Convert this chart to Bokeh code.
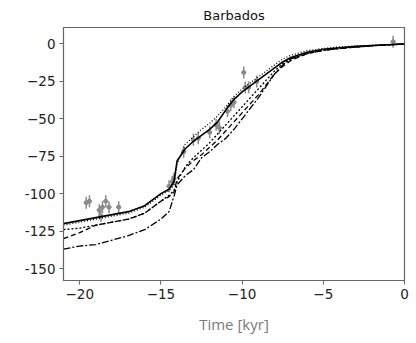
from bokeh.plotting import figure
from bokeh.embed import file_html
from bokeh.resources import INLINE
from bokeh.models import Range1d, FixedTicker

# Model times (kyr) and relative sea level (m) for each model curve
t = [-21, -20, -19, -18, -17, -16, -15, -14.5, -14.2, -14, -13.5, -13, -12.5, -12,
     -11.5, -11, -10.5, -10, -9.5, -9, -8.5, -8, -7.5, -7, -6, -5, -4, -3, -2, -1, 0]
solid = [-120, -118, -116, -114, -112, -108, -100, -97, -92, -78, -70, -65, -61, -57,
         -52, -44, -37, -32, -28, -24, -20, -16, -12, -9, -5.5, -3.5, -2.5, -1.6, -1, -0.5, 0]
dotted_a = [-121, -119, -117, -115, -113, -109, -101, -98, -94, -80, -67, -62, -57, -53,
            -48, -42, -35, -30, -26, -22, -18, -14, -10, -7.5, -4.5, -3, -2, -1.4, -0.9, -0.4, 0]
dotted_b = [-124, -123, -121, -119, -117, -113, -105, -101, -98, -92, -82, -76, -71, -66,
            -60, -54, -48, -42, -36, -30, -24, -18, -13, -10, -6, -4, -2.8, -1.8, -1.1, -0.5, 0]
dashed = [-130, -126, -121, -119, -117, -113, -105, -102, -99, -90, -83, -78, -74, -69,
          -64, -58, -52, -46, -40, -34, -27, -20, -15, -11, -6.5, -4.2, -3, -2, -1.2, -0.6, 0]
dashdot = [-137, -135, -134, -131, -128, -124, -117, -112, -102, -94, -88, -84, -76, -72,
           -67, -63, -57, -50, -43, -36, -28, -20, -14, -10, -6.5, -4.3, -3.1, -2.1, -1.3, -0.6, 0]

# Observations (age kyr, RSL m)
obs_t = [-19.6, -19.4, -18.8, -18.7, -18.6, -18.4, -18.2, -17.6, -14.5, -14.3, -14.2,
         -13.6, -13.0, -12.7, -12.0, -11.6, -11.4, -10.9, -10.7, -10.5, -9.9, -9.8, -9.6,
         -9.1, -0.7]
obs_v = [-106, -105, -111, -115, -109, -105, -109, -109, -95, -92, -90,
         -72, -64, -63, -59, -54, -56, -45, -41, -39, -19, -29, -29,
         -25, 1.5]
err_t = 0.15
err_v = 4

x_ticks = [-20, -15, -10, -5, 0]
x_labels = ["\u221220", "\u221215", "\u221210", "\u22125", "0"]
y_ticks = [0, -25, -50, -75, -100, -125, -150]
y_labels = ["0", "\u221225", "\u221250", "\u221275", "-100", "-125", "-150"]

p = figure(width=410, height=338, output_backend="svg", toolbar_location=None,
           x_range=Range1d(-21, 0), y_range=Range1d(-158, 11),
           title="Barbados", min_border_left=63, min_border_right=6,
           min_border_top=27, min_border_bottom=58)
p.title.align = "center"
p.title.text_font = "DejaVu Sans"
p.title.text_font_size = "13px"
p.title.text_font_style = "normal"
p.title.text_color = "#111111"
p.title.standoff = 9

p.grid.visible = False
p.outline_line_color = "#666666"
p.outline_line_width = 1.2
p.background_fill_color = "white"

for ax in (p.xaxis, p.yaxis):
    ax.axis_line_color = "#666666"
    ax.major_tick_line_color = "#666666"
    ax.minor_tick_line_color = None
    ax.major_tick_in = 0
    ax.major_tick_out = 4
    ax.major_label_text_font = "DejaVu Sans"
    ax.major_label_text_font_size = "13.5px"
    ax.major_label_text_color = "#222222"
    ax.major_label_standoff = 4

p.xaxis.ticker = FixedTicker(ticks=x_ticks)
p.xaxis.major_label_overrides = {k: l for k, l in zip(x_ticks, x_labels)}
p.yaxis.ticker = FixedTicker(ticks=y_ticks)
p.yaxis.major_label_overrides = {k: l for k, l in zip(y_ticks, y_labels)}
p.xaxis.axis_label = "Time [kyr]"
p.xaxis.axis_label_text_font = "Open Sans"
p.xaxis.axis_label_text_font_size = "15px"
p.xaxis.axis_label_text_font_style = "normal"
p.xaxis.axis_label_text_color = "#7a7a7a"
p.xaxis.axis_label_standoff = 12

# observations with error bars
gx0 = [a - err_t for a in obs_t]
gx1 = [a + err_t for a in obs_t]
gy0 = [v - err_v for v in obs_v]
gy1 = [v + err_v for v in obs_v]
p.segment(x0=obs_t, y0=gy0, x1=obs_t, y1=gy1, line_color="#8a8a8a", line_width=1.5)
p.segment(x0=gx0, y0=obs_v, x1=gx1, y1=obs_v, line_color="#8a8a8a", line_width=1.5)
p.scatter(obs_t, obs_v, size=4, color="#8a8a8a")

p.line(t, dashdot, line_color="black", line_width=1.3, line_dash="7 2 2 2")
p.line(t, dashed, line_color="black", line_width=1.3, line_dash="5 3")
p.line(t, dotted_b, line_color="black", line_width=1.3, line_dash="2 2")
p.line(t, dotted_a, line_color="black", line_width=1.3, line_dash="1 2")
p.line(t, solid, line_color="black", line_width=1.6)

open("out.html", "w").write(file_html(p, INLINE))
